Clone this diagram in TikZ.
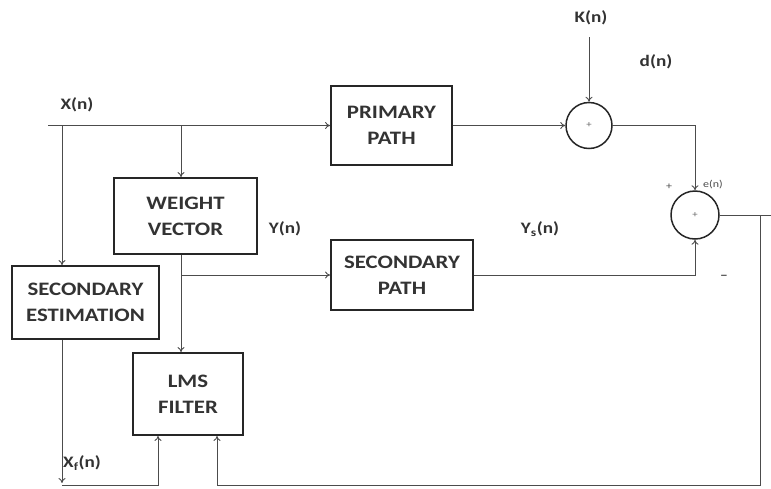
\documentclass[tikz,border=0pt]{standalone}
\usepackage{fontspec}
\setmainfont{Carlito}[FakeStretch=1.2]
\usetikzlibrary{arrows.meta}
\begin{document}
\begin{tikzpicture}[x=1pt,y=-1pt,
  blk/.style={draw=black!85,line width=1.8pt,fill=white,align=center,inner sep=0pt,
    font=\bfseries\fontsize{19}{26}\selectfont,text=black!80},
  sumc/.style={circle,draw=black!85,line width=1.5pt,inner sep=0pt,
    font=\fontsize{9}{9}\selectfont,text=black!60},
  wire/.style={draw=black!70,line width=0.9pt},
  arr/.style={wire,-{To[length=5pt,width=7pt]}},
  lbl/.style={font=\bfseries\fontsize{16}{18}\selectfont,text=black!80},
  sml/.style={font=\fontsize{10}{11}\selectfont,text=black!70}]

\useasboundingbox (0,0) rectangle (771,488);

% blocks
\node[blk,minimum width=121pt,minimum height=79pt] (PP) at (391.5,125.5) {PRIMARY\\PATH};
\node[blk,minimum width=142pt,minimum height=70pt] (SP) at (402,275) {SECONDARY\\PATH};
\node[blk,minimum width=143pt,minimum height=76pt] (WV) at (185.5,216) {WEIGHT\\VECTOR};
\node[blk,minimum width=110pt,minimum height=82pt] (LMS) at (188,394) {LMS\\FILTER};
\node[blk,minimum width=147pt,minimum height=73pt] (SE) at (85.5,302.5) {SECONDARY\\ESTIMATION};

% summing junctions
\node[sumc,minimum size=46pt] (S1) at (589,125.5) {+};
\node[sumc,minimum size=48pt] (S2) at (695,215) {+};

% labels
\node[lbl] (X) at (77,105) {X(n)};
\node[lbl] (K) at (591,18) {K(n)};
\node[lbl] (D) at (656,62) {d(n)};
\node[lbl] (Y) at (285,229) {Y(n)};
\node[lbl] (YS) at (540,229) {Y\textsubscript{s}(n)};
\node[lbl] (XF) at (82,463) {X\textsubscript{f}(n)};
\node[sml] (PL) at (669,187) {+};
\node[sml] (E) at (713,185) {e(n)};
\node[font=\bfseries\fontsize{13}{13}\selectfont,text=black!70] (MI) at (724,277) {–};

% coordinates
\coordinate (xs) at (48,125.5);
\coordinate (j1) at (62,125.5);
\coordinate (j2) at (181,125.5);
\coordinate (j4) at (181,275);
\coordinate (ks) at (589,37);
\coordinate (j5) at (760,215);
\coordinate (out) at (771,215);
\coordinate (b1) at (62,483);
\coordinate (b2) at (62,485);
\coordinate (t1) at (158,485);
\coordinate (t2) at (217,485);

% connectors
\draw[arr] (xs) -- (PP.west);
\draw[arr] (j1) -- (j1 |- SE.north);
\draw[arr] (j2) -- (j2 |- WV.north);
\draw[arr] (ks) -- (S1.north);
\draw[arr] (PP.east) -- (S1.west);
\draw[arr] (S1.east) -| (S2.north);
\draw[arr] (j2 |- WV.south) -- (j2 |- LMS.north);
\draw[arr] (j4) -- (SP.west);
\draw[arr] (SP.east) -| (S2.south);
\draw[wire] (S2.east) -- (out);
\draw[arr] (j5) |- (t2) -- (t2 |- LMS.south);
\draw[arr] (b1 |- SE.south) -- (b1);
\draw[arr] (b2) -- (t1) -- (t1 |- LMS.south);
\end{tikzpicture}
\end{document}
